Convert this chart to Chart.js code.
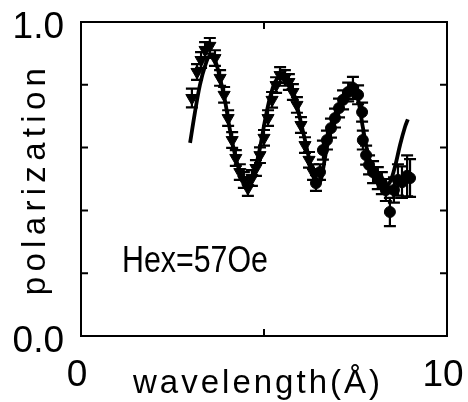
<!DOCTYPE html>
<html>
<head>
<meta charset="utf-8">
<script src="https://cdn.jsdelivr.net/npm/chart.js@4.4.0/dist/chart.umd.min.js"></script>
<style>
  html, body { margin: 0; padding: 0; background: #fff; }
</style>
</head>
<body>
<canvas id="polChart" width="468" height="402"></canvas>
<script>
// measured points, first run (triangles)
const wavelengthA = [3.03, 3.17, 3.28, 3.39, 3.52, 3.66, 3.80, 3.91, 4.02, 4.13, 4.23, 4.34, 4.45, 4.56, 4.67,
  4.78, 4.89, 5.00, 5.11, 5.22, 5.33, 5.44, 5.57, 5.68, 5.79, 5.90, 6.01, 6.12, 6.23, 6.34];
const polarizationA = [0.758, 0.841, 0.879, 0.911, 0.924, 0.885, 0.822, 0.768, 0.694, 0.624, 0.567, 0.522, 0.497, 0.471, 0.503,
  0.535, 0.576, 0.631, 0.694, 0.752, 0.799, 0.831, 0.822, 0.809, 0.777, 0.736, 0.672, 0.608, 0.561, 0.522];
const errorA = [0.03, 0.025, 0.025, 0.025, 0.025, 0.025, 0.025, 0.025, 0.025, 0.025, 0.025, 0.025, 0.025, 0.025, 0.025,
  0.025, 0.025, 0.025, 0.025, 0.025, 0.025, 0.025, 0.025, 0.025, 0.025, 0.025, 0.025, 0.025, 0.025, 0.025];

// measured points, second run (circles)
const wavelengthB = [6.42, 6.53, 6.61, 6.72, 6.83, 6.94, 7.05, 7.16, 7.30, 7.43, 7.57, 7.68, 7.70, 7.79, 7.87,
  7.98, 8.11, 8.22, 8.33, 8.44, 8.55, 8.66, 8.77, 8.91, 8.99];
const polarizationB = [0.487, 0.522, 0.592, 0.624, 0.662, 0.694, 0.726, 0.752, 0.777, 0.790, 0.768, 0.713, 0.624, 0.576, 0.545,
  0.522, 0.503, 0.487, 0.465, 0.395, 0.465, 0.497, 0.490, 0.510, 0.503];
const errorB = [0.025, 0.025, 0.03, 0.03, 0.03, 0.03, 0.03, 0.03, 0.03, 0.035, 0.03, 0.03, 0.03, 0.03, 0.03,
  0.035, 0.035, 0.035, 0.035, 0.045, 0.04, 0.05, 0.05, 0.065, 0.06];

// fitted curve
const fitWavelength = [2.98, 3.11, 3.25, 3.39, 3.52, 3.66, 3.80, 3.93, 4.07, 4.21, 4.34, 4.48, 4.62, 4.75, 4.89,
  5.03, 5.16, 5.30, 5.44, 5.57, 5.71, 5.85, 5.98, 6.12, 6.26, 6.39, 6.47, 6.56, 6.67, 6.80,
  6.94, 7.08, 7.21, 7.35, 7.45, 7.56, 7.70, 7.85, 8.00, 8.15, 8.30, 8.44, 8.58, 8.72, 8.85, 8.93];
const fitPolarization = [0.615, 0.71, 0.80, 0.86, 0.893, 0.878, 0.82, 0.752, 0.656, 0.576, 0.522, 0.487, 0.490, 0.529, 0.599,
  0.688, 0.758, 0.809, 0.828, 0.828, 0.806, 0.758, 0.694, 0.624, 0.551, 0.497, 0.482, 0.50, 0.57, 0.645,
  0.70, 0.738, 0.765, 0.782, 0.785, 0.76, 0.665, 0.575, 0.52, 0.49, 0.476, 0.49, 0.54, 0.61, 0.665, 0.69];

const xTickLabels = ['0', '10'];
const yTickLabels = ['0.0', '1.0'];
const noteText = 'Hex=57Oe';

const FONT = '"Liberation Sans", Arial, Helvetica, sans-serif';

function pairs(xs, ys) {
  return xs.map((x, i) => ({ x: x, y: ys[i] }));
}

// error bars, box, inward ticks, titles and the note
const decorations = {
  id: 'decorations',
  beforeDatasetsDraw(chart) {
    const ctx = chart.ctx;
    const xs = chart.scales.x, ys = chart.scales.y;
    ctx.save();
    ctx.strokeStyle = '#000';
    ctx.lineWidth = 2.2;
    chart.data.datasets.forEach(ds => {
      if (!ds.errors) return;
      ds.data.forEach((p, i) => {
        const px = xs.getPixelForValue(p.x);
        const top = ys.getPixelForValue(p.y + ds.errors[i]);
        const bot = ys.getPixelForValue(p.y - ds.errors[i]);
        ctx.beginPath();
        ctx.moveTo(px, top); ctx.lineTo(px, bot);
        ctx.moveTo(px - 6, top); ctx.lineTo(px + 6, top);
        ctx.moveTo(px - 6, bot); ctx.lineTo(px + 6, bot);
        ctx.stroke();
      });
    });
    ctx.restore();
  },
  afterDraw(chart) {
    const ctx = chart.ctx;
    const a = chart.chartArea;
    const xs = chart.scales.x, ys = chart.scales.y;
    ctx.save();
    ctx.strokeStyle = '#000';
    ctx.lineWidth = 2;
    ctx.strokeRect(a.left, a.top, a.right - a.left, a.bottom - a.top);
    // inward ticks
    ctx.beginPath();
    ys.ticks.forEach(t => {
      if (t.value <= 0 || t.value >= 1) return;
      const py = ys.getPixelForValue(t.value);
      ctx.moveTo(a.left, py); ctx.lineTo(a.left + 7, py);
      ctx.moveTo(a.right, py); ctx.lineTo(a.right - 7, py);
    });
    xs.ticks.forEach(t => {
      if (t.value <= 0 || t.value >= 10) return;
      const px = xs.getPixelForValue(t.value);
      ctx.moveTo(px, a.bottom); ctx.lineTo(px, a.bottom - 7);
      ctx.moveTo(px, a.top); ctx.lineTo(px, a.top + 7);
    });
    ctx.stroke();

    ctx.fillStyle = '#000';
    // axis titles (spaced lettering like the original)
    ctx.font = '33px ' + FONT;
    ctx.textAlign = 'center';
    ctx.textBaseline = 'alphabetic';
    ctx.letterSpacing = '3px';
    ctx.fillText('wavelength(Å)', (a.left + a.right) / 2 - 6, 393);
    ctx.save();
    ctx.translate(45, (a.top + a.bottom) / 2);
    ctx.rotate(-Math.PI / 2);
    ctx.letterSpacing = '5.3px';
    ctx.fillText('polarization', 0, 0);
    ctx.restore();

    // note, narrow lettering
    ctx.letterSpacing = '0px';
    ctx.font = '37px ' + FONT;
    ctx.textAlign = 'left';
    ctx.translate(xs.getPixelForValue(1.12), ys.getPixelForValue(0.204));
    ctx.scale(0.82, 1);
    ctx.fillText(noteText, 0, 0);
    ctx.restore();
  }
};

new Chart(document.getElementById('polChart'), {
  type: 'scatter',
  data: {
    datasets: [
      {
        type: 'line',
        label: 'fit',
        data: pairs(fitWavelength, fitPolarization),
        borderColor: '#000',
        borderWidth: 3.8,
        pointRadius: 0,
        tension: 0.35,
        fill: false,
        order: 0
      },
      {
        label: 'run A',
        data: pairs(wavelengthA, polarizationA),
        errors: errorA,
        pointStyle: 'triangle',
        rotation: 180,
        pointRadius: 7,
        backgroundColor: '#000',
        borderColor: '#000',
        order: 1
      },
      {
        label: 'run B',
        data: pairs(wavelengthB, polarizationB),
        errors: errorB,
        pointStyle: 'circle',
        pointRadius: 5.5,
        backgroundColor: '#000',
        borderColor: '#000',
        order: 1
      }
    ]
  },
  options: {
    responsive: false,
    animation: false,
    layout: {
      autoPadding: false,
      padding: { left: 0, top: 22, right: 21, bottom: 0 }
    },
    plugins: {
      legend: { display: false },
      tooltip: { enabled: false }
    },
    scales: {
      x: {
        type: 'linear',
        min: 0,
        max: 10,
        grid: { display: false, drawTicks: false },
        border: { display: false },
        afterFit: s => { s.height = 66; s.paddingLeft = 0; s.paddingRight = 0; },
        ticks: {
          stepSize: 5,
          autoSkip: false,
          maxRotation: 0,
          padding: 18,
          labelOffset: -4,
          color: '#000',
          font: { family: FONT, size: 37 },
          callback: v => (v === 0 ? xTickLabels[0] : v === 10 ? xTickLabels[1] : '')
        }
      },
      y: {
        min: 0,
        max: 1,
        grid: { display: false, drawTicks: false },
        border: { display: false },
        afterFit: s => { s.width = 81; s.paddingTop = 0; s.paddingBottom = 0; },
        ticks: {
          stepSize: 0.2,
          autoSkip: false,
          padding: 17,
          labelOffset: 6,
          color: '#000',
          font: { family: FONT, size: 37 },
          callback: v => (v === 0 ? yTickLabels[0] : v === 1 ? yTickLabels[1] : '')
        }
      }
    }
  },
  plugins: [decorations]
});
</script>
</body>
</html>
